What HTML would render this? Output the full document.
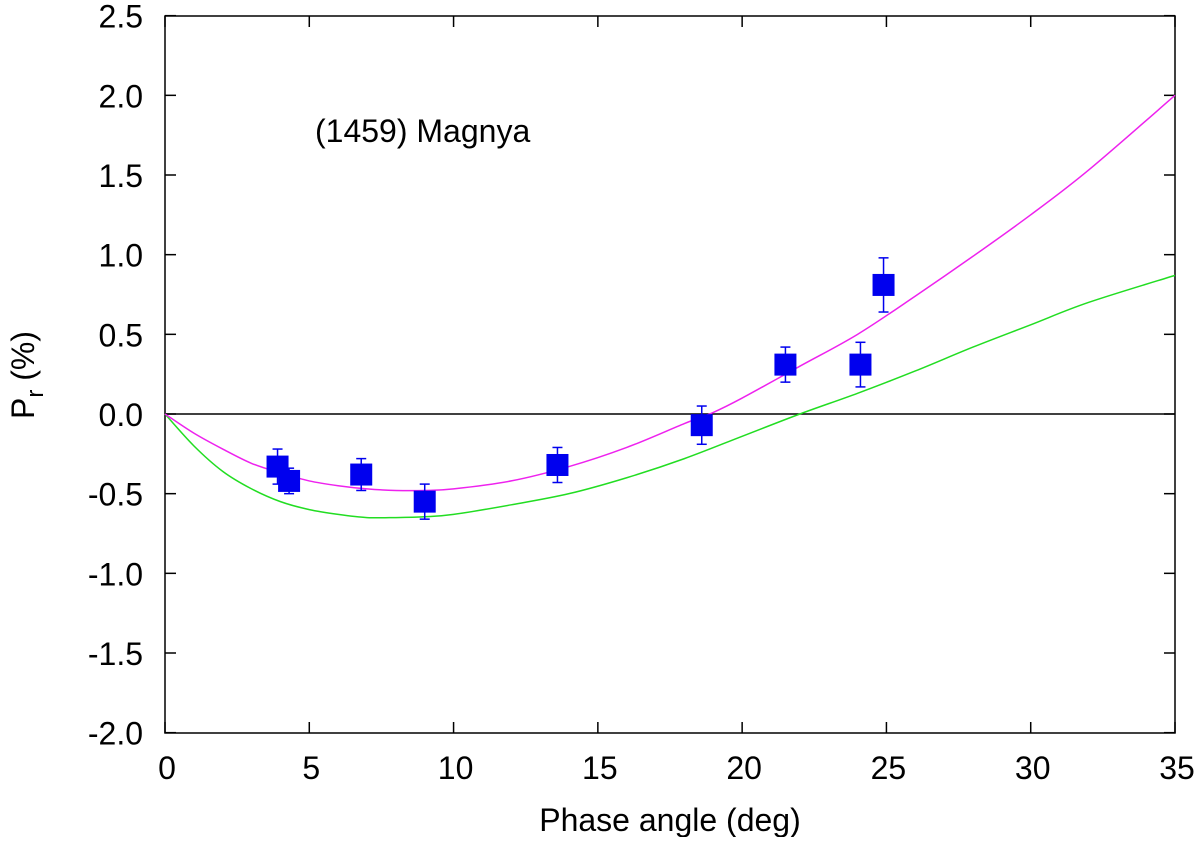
<!DOCTYPE html>
<html><head><meta charset="utf-8"><style>
body{margin:0;background:#fff}
svg text{font-family:"Liberation Sans",sans-serif;font-size:32px;fill:#000}
</style></head><body>
<svg id="chart" width="1200" height="837" xmlns="http://www.w3.org/2000/svg">
<rect x="165" y="16" width="1010" height="717" fill="none" stroke="#000" stroke-width="1.5"/>
<line x1="165" y1="414" x2="1175" y2="414" stroke="#000" stroke-width="1.5"/>
<g id="ticks"></g>
<g id="curves"></g>
<g id="points"></g>
<text x="315" y="142">(1459) Magnya</text>
<text x="670" y="831" text-anchor="middle">Phase angle (deg)</text>
<text transform="translate(34,375) rotate(-90)" text-anchor="middle">P<tspan dy="9" font-size="24">r</tspan><tspan dy="-9"> (%)</tspan></text>
</svg>
<script>
const xTicks=[0,5,10,15,20,25,30,35];
const yTicks=[-2.0,-1.5,-1.0,-0.5,0.0,0.5,1.0,1.5,2.0,2.5];
const obsX=[3.9,4.3,6.8,9.0,13.6,18.6,21.5,24.1,24.9];
const obsY=[-0.33,-0.42,-0.38,-0.55,-0.32,-0.07,0.31,0.31,0.81];
const obsErr=[0.11,0.08,0.1,0.11,0.11,0.12,0.11,0.14,0.17];
const magX=[0,1,2,3,4,5,6,7,8,9,10,12,14,16,18,19,20,22,24,26,28,30,32,35];
const magY=[0,-0.12,-0.22,-0.31,-0.37,-0.42,-0.45,-0.47,-0.48,-0.48,-0.47,-0.42,-0.33,-0.21,-0.06,0.01,0.1,0.3,0.5,0.74,0.99,1.25,1.53,2.0];
const grnX=[0,1,2,3,4,5,6,7,8,9,10,12,14,16,18,20,22,24,26,28,30,32,35];
const grnY=[0,-0.2,-0.36,-0.47,-0.55,-0.6,-0.63,-0.65,-0.65,-0.645,-0.63,-0.57,-0.5,-0.4,-0.28,-0.14,0,0.13,0.27,0.42,0.56,0.7,0.87];
const NS="http://www.w3.org/2000/svg";
const sx=v=>165+v*(1010/35);
const sy=v=>414-v*(717/4.5);
function mk(tag,attrs,parent){const e=document.createElementNS(NS,tag);for(const k in attrs)e.setAttribute(k,attrs[k]);parent.appendChild(e);return e;}
const tk=document.getElementById('ticks');
xTicks.forEach(v=>{
 const l=mk('line',{x1:sx(v),x2:sx(v),y1:733,y2:722,stroke:'#000','stroke-width':1.5},tk);
 
 
 const l2=mk('line',{x1:sx(v),x2:sx(v),y1:16,y2:27,stroke:'#000','stroke-width':1.5},tk);
 
 
 const t=mk('text',{x:sx(v)+2,y:779,'text-anchor':'middle'},tk);t.textContent=v;
 
 
});
yTicks.forEach(v=>{
 const l=mk('line',{x1:165,x2:176,y1:sy(v),y2:sy(v),stroke:'#000','stroke-width':1.5},tk);
 
 
 const l2=mk('line',{x1:1164,x2:1175,y1:sy(v),y2:sy(v),stroke:'#000','stroke-width':1.5},tk);
 
 
 const t=mk('text',{x:143,y:sy(v)+12,'text-anchor':'end'},tk);t.textContent=v.toFixed(1);
 
 
});
const cv=document.getElementById('curves');
function curve(xs,ys,color,name){
 const P=xs.map((x,i)=>[sx(x),sy(ys[i])]);
 let d='M'+P[0][0]+','+P[0][1];
 for(let i=0;i<P.length-1;i++){
  const p0=P[Math.max(0,i-1)],p1=P[i],p2=P[i+1],p3=P[Math.min(P.length-1,i+2)];
  const c1=[p1[0]+(p2[0]-p0[0])/6,p1[1]+(p2[1]-p0[1])/6];
  const c2=[p2[0]-(p3[0]-p1[0])/6,p2[1]-(p3[1]-p1[1])/6];
  d+=' C'+c1+' '+c2+' '+p2;
 }
 const p=mk('path',{d:d,fill:'none',stroke:color,'stroke-width':1.5},cv);
 
 
}
curve(grnX,grnY,'#22dd22','green-fit-curve');
curve(magX,magY,'#ee22ee','magenta-fit-curve');
const pt=document.getElementById('points');
obsX.forEach((x,i)=>{
 const X=sx(x),Y=sy(obsY[i]),t=sy(obsY[i]+obsErr[i]),b=sy(obsY[i]-obsErr[i]);
 const g=mk('g',{},pt);
 
 
 mk('line',{x1:X,x2:X,y1:t,y2:b,stroke:'#0000ee','stroke-width':1.5},g);
 mk('line',{x1:X-5,x2:X+5,y1:t,y2:t,stroke:'#0000ee','stroke-width':1.5},g);
 mk('line',{x1:X-5,x2:X+5,y1:b,y2:b,stroke:'#0000ee','stroke-width':1.5},g);
 mk('rect',{x:X-11,y:Y-11,width:22,height:22,fill:'#0000ee'},g);
});
</script>
</body></html>
